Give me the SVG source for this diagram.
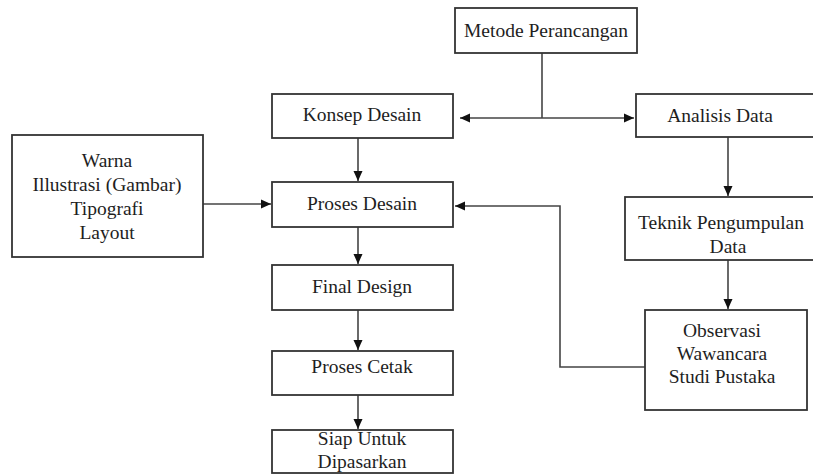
<svg xmlns="http://www.w3.org/2000/svg" width="813" height="475" viewBox="0 0 813 475">
<defs>
<style>
.box{fill:#fff;stroke:#333;stroke-width:1.8}
.t{font-family:"Liberation Serif","Times New Roman",serif;font-size:19.5px;fill:#1e1e1e;text-anchor:middle}
.c{fill:none;stroke:#444;stroke-width:1.6}
</style>
<marker id="ah" markerUnits="userSpaceOnUse" markerWidth="10" markerHeight="10" viewBox="0 0 10 10" refX="10" refY="5" orient="auto">
<path d="M0,0.5 L10,5 L0,9.5 Z" fill="#111"/>
</marker>
</defs>
<rect width="813" height="475" fill="#fff"/>
<g id="connectors">
<line class="c" x1="542" y1="53" x2="542" y2="118"/>
<line class="c" x1="542" y1="118" x2="460" y2="118" marker-end="url(#ah)"/>
<line class="c" x1="542" y1="118" x2="634" y2="118" marker-end="url(#ah)"/>
<line class="c" x1="358" y1="138" x2="358" y2="181" marker-end="url(#ah)"/>
<line class="c" x1="203" y1="204" x2="271" y2="204" marker-end="url(#ah)"/>
<line class="c" x1="358" y1="227" x2="358" y2="264" marker-end="url(#ah)"/>
<line class="c" x1="358" y1="310" x2="358" y2="350" marker-end="url(#ah)"/>
<line class="c" x1="358" y1="395" x2="358" y2="429" marker-end="url(#ah)"/>
<line class="c" x1="728" y1="137" x2="728" y2="196" marker-end="url(#ah)"/>
<line class="c" x1="728" y1="260" x2="728" y2="309" marker-end="url(#ah)"/>
<polyline class="c" points="645,367 560,367 560,206 455,206" marker-end="url(#ah)"/>
</g>
<g id="metode"><rect class="box" x="455" y="8" width="182" height="45"/><text class="t" x="546" y="37">Metode Perancangan</text></g>
<g id="konsep"><rect class="box" x="272" y="94" width="181" height="44"/><text class="t" x="362" y="121">Konsep Desain</text></g>
<g id="analisis"><rect class="box" x="636" y="94" width="190" height="43"/><text class="t" x="720" y="122">Analisis Data</text></g>
<g id="elemen"><rect class="box" x="12" y="135" width="191" height="122"/>
<text class="t" x="107" y="167">Warna</text>
<text class="t" x="107" y="191">Illustrasi (Gambar)</text>
<text class="t" x="107" y="215">Tipografi</text>
<text class="t" x="107" y="239">Layout</text></g>
<g id="proses"><rect class="box" x="272" y="182" width="181" height="45"/><text class="t" x="362" y="210">Proses Desain</text></g>
<g id="teknik"><rect class="box" x="625" y="197" width="200" height="63"/>
<text class="t" x="721" y="229">Teknik Pengumpulan</text>
<text class="t" x="728" y="253">Data</text></g>
<g id="final"><rect class="box" x="272" y="265" width="181" height="45"/><text class="t" x="362" y="293">Final Design</text></g>
<g id="observasi"><rect class="box" x="645" y="310" width="162" height="100"/>
<text class="t" x="722" y="337">Observasi</text>
<text class="t" x="722" y="360">Wawancara</text>
<text class="t" x="722" y="383">Studi Pustaka</text></g>
<g id="cetak"><rect class="box" x="272" y="351" width="181" height="44"/><text class="t" x="362" y="373">Proses Cetak</text></g>
<g id="siap"><rect class="box" x="272" y="430" width="181" height="43"/>
<text class="t" x="362" y="445">Siap Untuk</text>
<text class="t" x="362" y="468">Dipasarkan</text></g>
</svg>
